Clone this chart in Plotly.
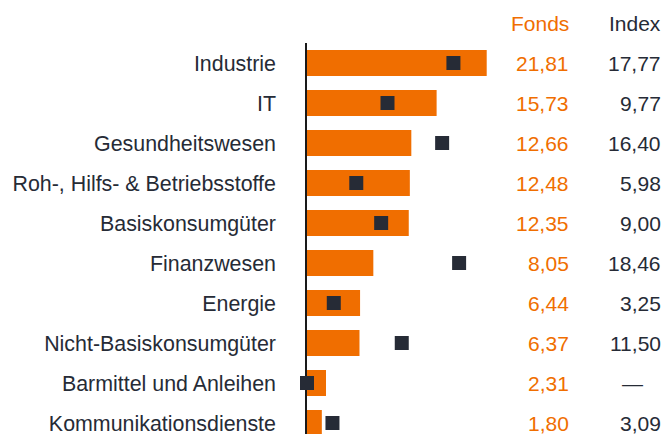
import plotly.graph_objects as go

categories = ["Industrie", "IT", "Gesundheitswesen", "Roh-, Hilfs- & Betriebsstoffe",
              "Basiskonsumgüter", "Finanzwesen", "Energie", "Nicht-Basiskonsumgüter",
              "Barmittel und Anleihen", "Kommunikationsdienste"]
fonds = [21.81, 15.73, 12.66, 12.48, 12.35, 8.05, 6.44, 6.37, 2.31, 1.80]
index = [17.77, 9.77, 16.40, 5.98, 9.00, 18.46, 3.25, 11.50, None, 3.09]

ORANGE = "#f06e00"
DARK = "#262b36"
FONT = "Liberation Sans, Arial, sans-serif"
FS = 21

def fmt(v):
    return f"{v:.2f}".replace(".", ",")

W, H = 665, 434
L, T = 307, 43
PX_PER_UNIT = 8.24
plot_w = W - L
plot_h = H - T

fig = go.Figure()
fig.add_trace(go.Bar(
    y=categories, x=fonds, orientation="h",
    marker=dict(color=ORANGE, line=dict(width=0)),
    width=0.65, hoverinfo="skip"))
fig.add_trace(go.Scatter(
    y=categories, x=[v if v is not None else 0 for v in index],
    mode="markers", marker=dict(symbol="square", size=14, color=DARK),
    hoverinfo="skip", cliponaxis=False))

def px_to_paper_x(px):
    return (px - L) / plot_w

def px_to_paper_y(py):
    return (H - py) / plot_h

ann = []
ann.append(dict(text="Fonds", x=px_to_paper_x(571), y=px_to_paper_y(23), xref="paper", yref="paper",
                xanchor="right", yanchor="middle", showarrow=False,
                font=dict(family=FONT, size=FS, color=ORANGE)))
ann.append(dict(text="Index", x=px_to_paper_x(663), y=px_to_paper_y(23), xref="paper", yref="paper",
                xanchor="right", yanchor="middle", showarrow=False,
                font=dict(family=FONT, size=FS, color=DARK)))
for c, f, i in zip(categories, fonds, index):
    ann.append(dict(text=fmt(f), x=px_to_paper_x(571), y=c, xref="paper", yref="y",
                    xanchor="right", yanchor="middle", showarrow=False,
                    font=dict(family=FONT, size=FS, color=ORANGE)))
    if i is None:
        ann.append(dict(text="—", x=px_to_paper_x(632), y=c, xref="paper", yref="y",
                        xanchor="center", yanchor="middle", showarrow=False,
                        font=dict(family=FONT, size=FS, color=DARK)))
    else:
        ann.append(dict(text=fmt(i), x=px_to_paper_x(663), y=c, xref="paper", yref="y",
                        xanchor="right", yanchor="middle", showarrow=False,
                        font=dict(family=FONT, size=FS, color=DARK)))

fig.update_layout(
    width=W, height=H,
    margin=dict(l=L, r=0, t=T, b=0, pad=0),
    paper_bgcolor="white", plot_bgcolor="white",
    showlegend=False,
    annotations=ann,
    font=dict(family=FONT, size=FS, color=DARK),
    xaxis=dict(range=[0, plot_w / PX_PER_UNIT], visible=False, fixedrange=True),
    yaxis=dict(type="category", categoryorder="array", categoryarray=categories,
               range=[9.275, -0.5], showline=True, linecolor="#1a1a1a", linewidth=1.5,
               showgrid=False, zeroline=False, ticks="", ticklabelstandoff=25,
               tickfont=dict(family=FONT, size=21.4, color=DARK), layer="below traces",
               fixedrange=True),
    bargap=0.35,
)

fig.write_html("out.html")
